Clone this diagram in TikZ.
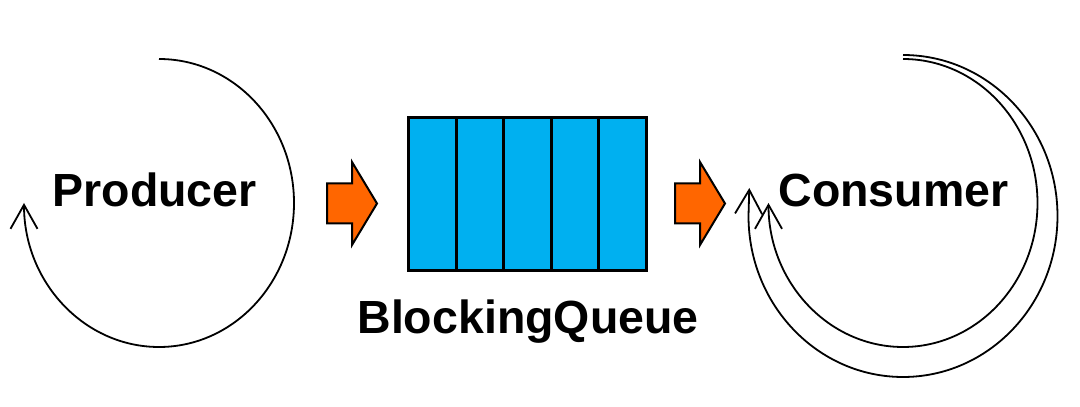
\documentclass[tikz,border=0pt]{standalone}
\usepackage{fontspec}
\setmainfont{Liberation Sans}
\usetikzlibrary{arrows.meta}
\definecolor{qblue}{HTML}{00B0F0}
\definecolor{qorange}{HTML}{FF6600}
\tikzset{
  loopline/.style={line width=1.8pt, -{Straight Barb[length=24pt,width=27pt]}},
  cellbox/.style={draw=black, fill=qblue, line width=3pt, minimum width=47.6pt, minimum height=153pt, inner sep=0pt, outer sep=0pt},
  bigarrow/.style={draw=black, fill=qorange, line width=2pt, line join=miter},
  label/.style={font=\bfseries\fontsize{46.5}{50}\selectfont, inner sep=0pt, outer sep=0pt},
}
\begin{document}
\begin{tikzpicture}[x=1pt,y=1pt]
\useasboundingbox (0,0) rectangle (1080,407);
% texts
\node[label, anchor=base west] (producer) at (52.5,200.3) {Producer};
\node[label, anchor=base west] (consumer) at (778.5,200.3) {Consumer};
\node[label, anchor=base] (queuelabel) at (528,73) {BlockingQueue};
% queue cells
\node[cellbox] (cell1) at (432.3,213) {};
\node[cellbox] (cell2) at (479.9,213) {};
\node[cellbox] (cell3) at (527.5,213) {};
\node[cellbox] (cell4) at (575.1,213) {};
\node[cellbox] (cell5) at (622.7,213) {};
% orange arrows
\draw[bigarrow] (327,223.5) -- (352,223.5) -- (352,245) -- (377,203.5) -- (352,162) -- (352,183.5) -- (327,183.5) -- cycle;
\draw[bigarrow] (675,223.5) -- (700,223.5) -- (700,245) -- (725,203.5) -- (700,162) -- (700,183.5) -- (675,183.5) -- cycle;
% loops
\coordinate (pstart) at (159,348);
\coordinate (cinner) at (903,348);
\coordinate (couter) at (903,352);
\draw[loopline] (pstart) arc[start angle=90, end angle=-180, x radius=135, y radius=144];
\draw[loopline] (cinner) arc[start angle=90, end angle=-180, x radius=134.5, y radius=144];
\draw[loopline] (couter) arc[start angle=90, end angle=-180, x radius=154.5, y radius=161] -- ++(0.8,28);
\end{tikzpicture}
\end{document}
